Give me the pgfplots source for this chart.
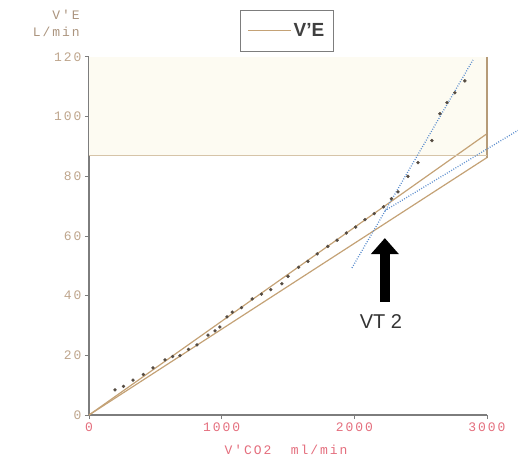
\documentclass[border=0pt]{standalone}
\usepackage{pgfplots}
\pgfplotsset{compat=1.18}
\usetikzlibrary{arrows.meta}
\usepackage{fontspec}
\setmainfont{Liberation Sans}
\newfontfamily\monof{Liberation Mono}[LetterSpace=15]
\definecolor{tanl}{RGB}{196,162,118}
\definecolor{tanh}{RGB}{214,196,168}
\definecolor{bluel}{RGB}{90,140,205}
\definecolor{axgray}{RGB}{125,125,125}
\definecolor{ylab}{RGB}{190,165,140}
\definecolor{xlab}{RGB}{228,110,125}
\definecolor{ptc}{RGB}{85,75,65}
\definecolor{cream}{RGB}{253,251,242}
\begin{document}
\begin{tikzpicture}
\begin{axis}[
 scale only axis, width=398pt, height=358pt,
 xmin=0, xmax=3000, ymin=0, ymax=120,
 axis x line=bottom, axis y line=left,
 axis line style={axgray, line width=1.6pt, -},
 xtick={0,1000,2000,3000}, ytick={0,20,...,120},
 /pgf/number format/assume math mode=true,
 /pgf/number format/1000 sep={},
 x tick label style={font=\monof\fontsize{13}{13}\selectfont, text=xlab},
 y tick label style={font=\monof\fontsize{13}{13}\selectfont, text=ylab},
 tick style={axgray, line width=1pt},
 tick align=outside, major tick length=4pt,
 clip=false,
 legend style={at={(axis description cs:0.497,1.073)}, anchor=center,
   draw=axgray, line width=1.2pt, fill=white, text=black!75,
   font=\bfseries\fontsize{19}{19}\selectfont, inner xsep=7pt, inner ysep=11pt},
 legend image code/.code={\draw[tanl, line width=1.2pt] (0pt,0pt) -- (43pt,0pt);},
]
\fill[cream] (axis cs:0,87) rectangle (axis cs:3000,120);
\coordinate (O) at (axis cs:0,0);
\addplot[tanl, line width=1.2pt] coordinates {(0,0) (3000,94.3)};
\addlegendentry{V'E}
\addplot[tanl, line width=1.2pt, forget plot] coordinates {(0,0) (3000,86.3)};
\addplot[tanl!80!gray, line width=1.2pt, forget plot] coordinates {(3000,120) (3000,86.3)};
\addplot[tanh, line width=1.2pt, forget plot] coordinates {(0,87) (3000,87)};
\addplot[bluel, line width=1.3pt, dash pattern=on 0.9pt off 1.6pt, forget plot] coordinates {(1982,49.3) (2894,119)};
\addplot[bluel, line width=1.3pt, dash pattern=on 0.9pt off 1.6pt, forget plot] coordinates {(2230,68.5) (3233,95.4)};
\addplot[only marks, mark=*, mark size=1.5pt, ptc, forget plot] coordinates {
(196,8.4) (260,9.6) (332,11.7) (410,13.6) (482,15.8) (573,18.5) (630,19.6) (686,19.9) (750,22.0) (814,23.5) (897,26.8) (950,28.2) (987,29.5)
(1040,32.9) (1080,34.5) (1150,36.0) (1230,38.9) (1300,40.5) (1370,42.0) (1454,44.0) (1500,46.5) (1580,49.5) (1650,51.5) (1720,54.0)
(1800,56.5) (1870,58.6) (1940,61.0) (2010,63.0) (2080,65.5) (2150,67.5) (2220,69.8) (2280,72.5)
(2329,74.8) (2404,80.0) (2480,84.6) (2585,92.0) (2645,101.0) (2698,104.7) (2758,108.0) (2833,112.0)};
\draw[black, line width=10pt, -{Triangle[width=27pt,length=16pt]}] (axis cs:2230,37.9) -- (axis cs:2230,59.3);
\node[font=\fontsize{20}{20}\selectfont, text=black!80] at (axis cs:2200,31.2) {VT 2};
\end{axis}
\node[anchor=east, font=\monof\fontsize{13}{13}\selectfont, text=ylab!90!black, inner sep=0pt] at ([shift={(-9pt,400pt)}]O) {V'E};
\node[anchor=east, font=\monof\fontsize{13}{13}\selectfont, text=ylab!90!black, inner sep=0pt] at ([shift={(-9pt,383pt)}]O) {L/min};
\node[font=\monof\fontsize{13}{13}\selectfont, text=xlab, inner sep=0pt] at ([shift={(197pt,-35pt)}]O) {V'CO2\ \ ml/min};
\pgfresetboundingbox
\path[use as bounding box] ([shift={(-89pt,-46pt)}]O) rectangle ([shift={(429pt,415pt)}]O);
\end{tikzpicture}
\end{document}
